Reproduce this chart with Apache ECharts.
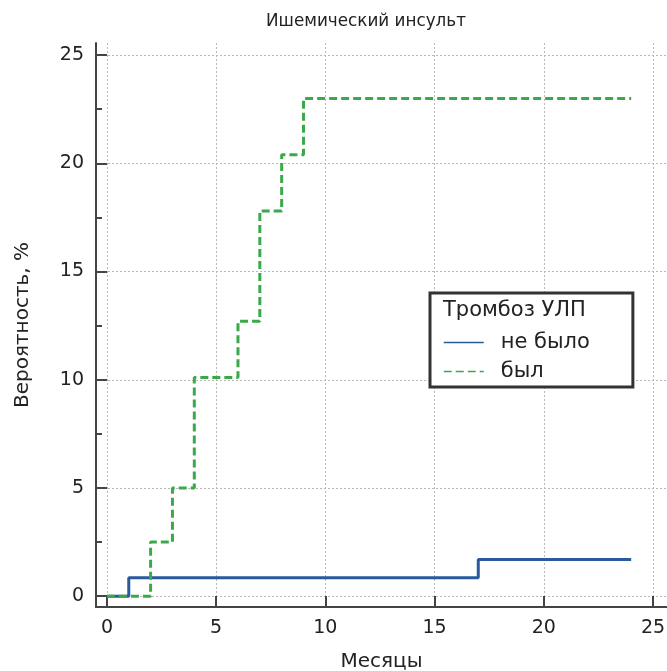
<!DOCTYPE html>
<html>
<head>
<meta charset="utf-8">
<script src="https://cdn.jsdelivr.net/npm/echarts@6/dist/echarts.min.js"></script>
<style>
html,body{margin:0;padding:0;background:#fff;}
#chart{width:667px;height:671px;}
</style>
</head>
<body>
<div id="chart"></div>
<script>
// Data
const titleText = 'Ишемический инсульт';
const xName = 'Месяцы';
const yName = 'Вероятность, %';
const legendTitle = 'Тромбоз УЛП';
const seriesNames = ['не было', 'был'];
const blueX = [0, 1, 17, 24];
const blueY = [0, 0.85, 1.7, 1.7];
const greenX = [0, 2, 3, 4, 6, 7, 8, 9, 24];
const greenY = [0, 2.5, 5.0, 10.1, 12.7, 17.8, 20.4, 23.0, 23.0];
const xTicks = [0, 5, 10, 15, 20, 25];
const yTicks = [0, 5, 10, 15, 20, 25];
const yMinorTicks = [2.5, 7.5, 12.5, 17.5, 22.5];

const FONT = '"DejaVu Sans", sans-serif';
const pairs = (xs, ys) => xs.map((x, i) => [x, ys[i]]);

const chart = echarts.init(document.getElementById('chart'), null, {renderer: 'canvas'});
const axisColor = '#444';
const option = {
  backgroundColor: '#fff',
  animation: false,
  title: [
    {text: titleText, left: 361, top: 8, textAlign: 'center',
     textStyle: {fontFamily: FONT, fontSize: 16.8, fontWeight: 'normal', color: '#222'}},
    {text: legendTitle, left: 443, top: 300,
     textStyle: {fontFamily: FONT, fontSize: 21, fontWeight: 'normal', color: '#222'}, padding: 0}
  ],
  grid: {left: 96, right: 0, top: 43, bottom: 64, containLabel: false, outerBoundsMode: 'none'},
  legend: {
    orient: 'vertical', left: 430, top: 293,
    padding: [39, 43, 5, 13],
    borderColor: '#333', borderWidth: 3, backgroundColor: '#fff',
    itemWidth: 40, itemHeight: 16, itemGap: 8,
    itemStyle: {opacity: 0},
    lineStyle: {width: 1.5},
    textStyle: {fontFamily: FONT, fontSize: 21, color: '#222', padding: [0, 0, 0, 12], lineHeight: 16},
    data: seriesNames
  },
  xAxis: [{
    type: 'value', min: -0.5, max: 25.64,
    name: xName, nameLocation: 'middle', nameGap: 45,
    nameTextStyle: {fontFamily: FONT, fontSize: 20, color: '#222'},
    axisLine: {show: true, onZero: false, lineStyle: {color: axisColor, width: 2}},
    axisTick: {show: true, inside: true, length: 11, customValues: xTicks, lineStyle: {color: axisColor, width: 2}},
    axisLabel: {customValues: xTicks, margin: 12, fontFamily: FONT, fontSize: 19, color: '#222', showMinLabel: true, showMaxLabel: true},
    splitLine: {show: true, lineStyle: {color: '#b8b8b8', type: [2, 2], width: 1}}
  }],
  yAxis: [{
    type: 'value', min: -0.5, max: 25.56,
    name: yName, nameLocation: 'middle', nameGap: 63,
    nameTextStyle: {fontFamily: FONT, fontSize: 20, color: '#222'},
    axisLine: {show: true, onZero: false, lineStyle: {color: axisColor, width: 2}},
    axisTick: {show: true, inside: true, length: 11, customValues: yTicks, lineStyle: {color: axisColor, width: 2}},
    axisLabel: {customValues: yTicks, margin: 12, fontFamily: FONT, fontSize: 19, color: '#222', showMinLabel: true, showMaxLabel: true},
    splitLine: {show: true, lineStyle: {color: '#b8b8b8', type: [2, 2], width: 1}}
  }, {
    type: 'value', min: -0.5, max: 25.56, position: 'left',
    axisLine: {show: false, onZero: false},
    axisTick: {show: true, inside: true, length: 6, customValues: yMinorTicks, lineStyle: {color: axisColor, width: 2}},
    axisLabel: {show: false},
    splitLine: {show: false}
  }],
  series: [
    {name: seriesNames[0], type: 'line', step: 'end', symbol: 'none',
     data: pairs(blueX, blueY), color: '#2a5a9e',
     lineStyle: {color: '#2a5a9e', width: 3}, z: 2},
    {name: seriesNames[1], type: 'line', step: 'end', symbol: 'none',
     data: pairs(greenX, greenY), color: '#3aa94a',
     lineStyle: {color: '#3aa94a', width: 3, type: [8, 4]}, z: 3}
  ]
};
chart.setOption(option);
</script>
</body>
</html>
